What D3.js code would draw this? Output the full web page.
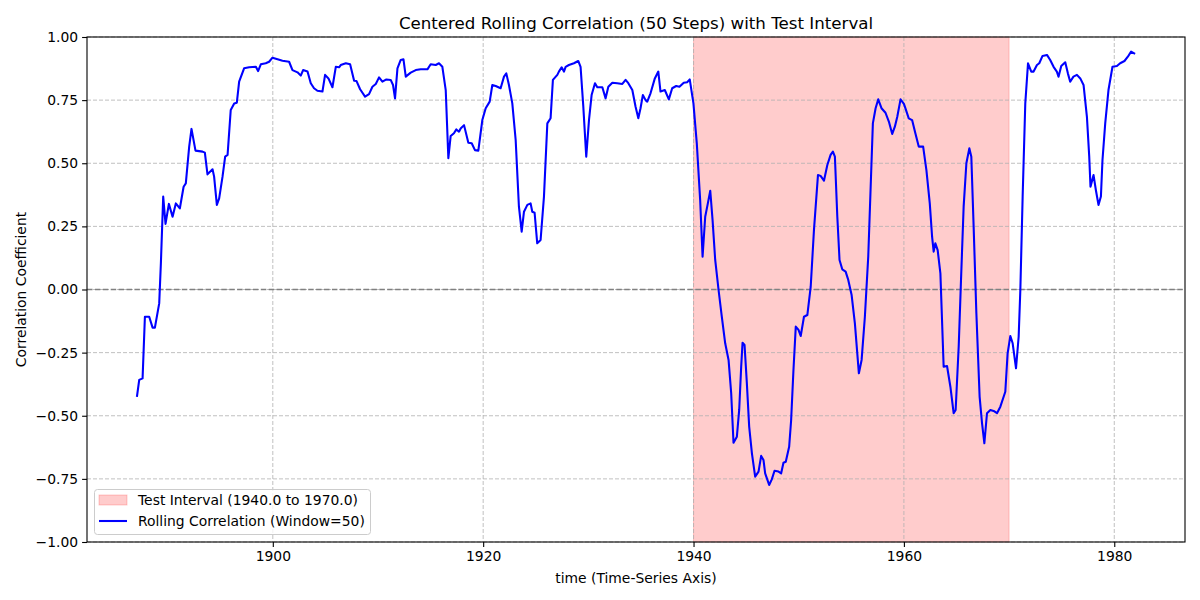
<!DOCTYPE html>
<html><head><meta charset="utf-8">
<script src="https://cdn.jsdelivr.net/npm/d3@7"></script>
<style>body{margin:0;background:#fff;} svg{display:block;font-family:"DejaVu Sans",sans-serif;}</style>
</head><body><svg id="c" width="1200" height="600"></svg>
<script>
const years = [1887.08,1887.3,1887.62,1887.84,1888.25,1888.57,1888.79,1889.2,1889.36,1889.58,1889.8,1890.12,1890.47,1890.78,1891.16,1891.52,1891.73,1892.05,1892.27,1892.65,1893.32,1893.54,1893.79,1894.27,1894.42,1894.68,1894.9,1895.22,1895.47,1895.7,1896.0,1896.33,1896.58,1896.8,1897.27,1897.75,1898.39,1898.6,1898.86,1899.33,1899.65,1899.97,
1900.45,1900.92,1901.55,1901.87,1902.35,1902.66,1902.88,1903.3,1903.61,1903.92,1904.24,1904.72,1904.97,1905.29,1905.67,1905.99,1906.3,1906.46,1906.94,1907.35,1907.73,1907.95,1908.3,1908.77,1909.15,1909.47,1909.79,1910.1,1910.42,1910.8,1911.21,1911.43,1911.62,1911.85,1912.16,1912.42,1912.64,1913.11,1913.59,1914.06,1914.7,1915.01,1915.49,1915.8,1916.12,1916.44,1916.69,1916.91,1917.22,1917.45,1917.7,1917.86,1918.18,1918.59,1918.91,1919.22,1919.54,1919.92,
1920.24,1920.62,1920.87,1921.19,1921.66,1921.98,1922.2,1922.45,1922.77,1923.09,1923.4,1923.66,1923.88,1924.2,1924.51,1924.67,1924.89,1925.14,1925.46,1925.78,1926.1,1926.41,1926.63,1927.05,1927.2,1927.46,1927.68,1927.84,1928.15,1928.63,1929.04,1929.26,1929.52,1929.8,1930.06,1930.31,1930.63,1930.85,1931.33,1931.64,1931.9,1932.28,1932.75,1933.23,1933.54,1933.8,1934.18,1934.49,1934.75,1934.96,1935.18,1935.44,1935.6,1935.91,1936.32,1936.65,1936.86,1937.27,1937.65,1937.97,1938.35,1938.66,1939.07,1939.39,1939.64,
1939.99,1940.31,1940.63,1940.86,1941.11,1941.36,1941.59,1941.81,1942.06,1942.38,1942.69,1943.01,1943.33,1943.58,1943.8,1944.12,1944.34,1944.53,1944.66,1944.85,1945.07,1945.29,1945.55,1945.86,1946.18,1946.43,1946.65,1946.81,1947.19,1947.44,1947.7,1948.08,1948.33,1948.55,1948.77,1949.09,1949.28,1949.5,1949.72,1949.98,1950.19,1950.5,1950.82,1951.14,1951.45,1951.83,1952.08,1952.4,1952.72,1953.03,1953.25,1953.44,1953.67,1953.88,1954.14,1954.46,1954.71,1955.03,1955.34,1955.72,1955.98,1956.29,1956.61,1956.83,1957.05,1957.31,1957.56,1957.87,1958.25,1958.57,1958.89,1959.14,1959.37,1959.68,
1960.0,1960.14,1960.46,1960.78,1961.09,1961.41,1961.83,1962.14,1962.46,1962.68,1962.83,1962.99,1963.21,1963.47,1963.78,1964.1,1964.42,1964.73,1964.92,1965.21,1965.43,1965.68,1965.94,1966.22,1966.41,1966.63,1966.89,1967.2,1967.43,1967.65,1967.9,1968.22,1968.53,1968.85,1969.17,1969.64,1969.86,1970.12,1970.34,1970.66,1970.91,1971.07,1971.29,1971.54,1971.8,1972.11,1972.33,1972.65,1972.87,1973.18,1973.6,1973.91,1974.23,1974.54,1974.7,1974.96,1975.34,1975.59,1975.81,1976.12,1976.45,1976.77,1977.08,1977.4,1977.62,1977.74,1978.03,1978.25,1978.5,1978.73,1978.88,1979.14,1979.45,1979.83,1980.25,1980.56,1980.97,1981.29,1981.6,1981.98];
const corr = [-0.425,-0.358,-0.352,-0.108,-0.108,-0.151,-0.151,-0.055,0.105,0.368,0.26,0.339,0.288,0.341,0.321,0.407,0.42,0.566,0.636,0.55,0.546,0.542,0.456,0.476,0.447,0.335,0.361,0.447,0.526,0.533,0.711,0.737,0.74,0.823,0.876,0.88,0.882,0.865,0.892,0.896,0.902,0.918,
0.912,0.906,0.902,0.869,0.86,0.847,0.869,0.863,0.817,0.797,0.787,0.784,0.85,0.836,0.801,0.882,0.88,0.889,0.896,0.892,0.827,0.826,0.793,0.764,0.774,0.803,0.814,0.84,0.823,0.832,0.83,0.81,0.757,0.876,0.909,0.912,0.843,0.859,0.869,0.872,0.872,0.892,0.889,0.896,0.882,0.79,0.52,0.608,0.619,0.634,0.625,0.638,0.651,0.581,0.579,0.552,0.55,0.671,
0.718,0.744,0.81,0.806,0.797,0.843,0.856,0.81,0.737,0.592,0.328,0.229,0.308,0.335,0.341,0.308,0.304,0.183,0.196,0.368,0.658,0.678,0.83,0.85,0.863,0.88,0.863,0.882,0.889,0.896,0.905,0.882,0.724,0.526,0.671,0.77,0.817,0.801,0.801,0.757,0.803,0.819,0.817,0.814,0.83,0.817,0.79,0.724,0.678,0.718,0.77,0.75,0.744,0.777,0.836,0.863,0.784,0.79,0.753,0.797,0.806,0.803,0.819,0.821,0.832,
0.737,0.579,0.354,0.13,0.288,0.341,0.391,0.275,0.117,-0.002,-0.108,-0.213,-0.279,-0.411,-0.607,-0.583,-0.477,-0.306,-0.211,-0.22,-0.372,-0.543,-0.649,-0.741,-0.721,-0.659,-0.675,-0.728,-0.774,-0.752,-0.718,-0.721,-0.728,-0.686,-0.682,-0.623,-0.517,-0.319,-0.147,-0.16,-0.184,-0.108,-0.101,0.011,0.236,0.453,0.45,0.431,0.493,0.533,0.546,0.526,0.288,0.117,0.08,0.071,0.038,-0.022,-0.134,-0.332,-0.279,-0.108,0.13,0.394,0.658,0.718,0.753,0.718,0.7,0.665,0.616,0.645,0.684,0.753,
0.735,0.718,0.678,0.671,0.619,0.566,0.566,0.473,0.341,0.209,0.15,0.183,0.156,0.064,-0.306,-0.303,-0.385,-0.49,-0.477,-0.226,0.038,0.328,0.5,0.559,0.526,0.249,-0.094,-0.425,-0.53,-0.609,-0.49,-0.477,-0.481,-0.49,-0.464,-0.405,-0.253,-0.184,-0.213,-0.312,-0.187,-0.002,0.368,0.737,0.896,0.863,0.863,0.889,0.896,0.925,0.929,0.909,0.882,0.863,0.843,0.885,0.9,0.856,0.823,0.843,0.85,0.836,0.81,0.684,0.526,0.407,0.453,0.394,0.335,0.368,0.513,0.658,0.79,0.882,0.885,0.896,0.905,0.922,0.942,0.933];
const yTicks = [-1.0,-0.75,-0.5,-0.25,0,0.25,0.5,0.75,1.0];
const xTicks = [1900,1920,1940,1960,1980];
const testStart = 1940.0, testEnd = 1970.0;
const titleText = "Centered Rolling Correlation (50 Steps) with Test Interval";
const xLabel = "time (Time-Series Axis)";
const yLabel = "Correlation Coefficient";

const data = years.map((y,i)=>({t:y, v:corr[i]}));
const L=87, R=1185, T=37, B=542;
const FS = "13.89px";
const svg = d3.select("#c");
const dmin = d3.min(years), dmax = d3.max(years), pad=(dmax-dmin)*0.05;
const x = d3.scaleLinear().domain([dmin-pad, dmax+pad]).range([L,R]);
const y = d3.scaleLinear().domain([-1,1]).range([B,T]);

svg.append("defs").append("clipPath").attr("id","clp").append("rect")
  .attr("x",L).attr("y",T).attr("width",R-L).attr("height",B-T);

// span
svg.append("rect").attr("x",x(testStart)).attr("y",T).attr("width",x(testEnd)-x(testStart)).attr("height",B-T)
  .attr("fill","rgb(255,0,0)").attr("fill-opacity",0.2).attr("stroke","rgb(255,0,0)").attr("stroke-opacity",0.2).attr("stroke-width",1);

// grid
const g = svg.append("g");
xTicks.forEach(t=>g.append("line").attr("x1",x(t)).attr("x2",x(t)).attr("y1",T).attr("y2",B)
  .attr("stroke","#b0b0b0").attr("stroke-width",0.8).attr("stroke-dasharray","4,2"));
yTicks.forEach(t=>g.append("line").attr("x1",L).attr("x2",R).attr("y1",y(t)).attr("y2",y(t))
  .attr("stroke","#b0b0b0").attr("stroke-width",0.8).attr("stroke-dasharray","4,2"));

// zero line
svg.append("line").attr("x1",L).attr("x2",R).attr("y1",y(0)).attr("y2",y(0))
  .attr("stroke","gray").attr("stroke-width",1.5).attr("stroke-dasharray","5.5,2.4");

// data line
svg.append("path").datum(data).attr("clip-path","url(#clp)")
  .attr("d", d3.line().x(d=>x(d.t)).y(d=>y(d.v)))
  .attr("fill","none").attr("stroke","blue").attr("stroke-width",2.08).attr("stroke-linejoin","round");

// axes
const fmtY = v => (v<0?"\u2212":"") + Math.abs(v).toFixed(2);
const xa = svg.append("g").attr("transform",`translate(0,${B})`)
  .call(d3.axisBottom(x).tickValues(xTicks).tickFormat(d3.format("d")).tickSize(4.9).tickPadding(4));
const ya = svg.append("g").attr("transform",`translate(${L},0)`)
  .call(d3.axisLeft(y).tickValues(yTicks).tickFormat(fmtY).tickSize(4.9).tickPadding(4));
[xa,ya].forEach(a=>{a.select(".domain").remove(); a.selectAll("text").attr("font-family","DejaVu Sans").attr("font-size",FS).attr("fill","#000");
  a.selectAll("line").attr("stroke","#000").attr("stroke-width",1.1);});
svg.append("rect").attr("x",L).attr("y",T).attr("width",R-L).attr("height",B-T)
  .attr("fill","none").attr("stroke","#000").attr("stroke-width",1.1);

// titles
svg.append("text").attr("x",(L+R)/2).attr("y",29).attr("text-anchor","middle").attr("font-size","16.67px").text(titleText);
svg.append("text").attr("x",(L+R)/2).attr("y",583).attr("text-anchor","middle").attr("font-size",FS).text(xLabel);
svg.append("text").attr("transform",`translate(26,${(T+B)/2}) rotate(-90)`).attr("text-anchor","middle").attr("font-size",FS).text(yLabel);

// legend
const lg = svg.append("g");
lg.append("rect").attr("x",94.5).attr("y",489.5).attr("width",276).attr("height",45).attr("rx",3)
  .attr("fill","#fff").attr("fill-opacity",0.8).attr("stroke","#cccccc").attr("stroke-width",1);
lg.append("rect").attr("x",99).attr("y",495).attr("width",28).attr("height",10)
  .attr("fill","rgb(255,0,0)").attr("fill-opacity",0.2).attr("stroke","rgb(255,0,0)").attr("stroke-opacity",0.2);
lg.append("text").attr("x",138).attr("y",505).attr("font-size",FS).text(`Test Interval (${testStart.toFixed(1)} to ${testEnd.toFixed(1)})`);
lg.append("line").attr("x1",99).attr("x2",127).attr("y1",521).attr("y2",521).attr("stroke","blue").attr("stroke-width",2.08);
lg.append("text").attr("x",138).attr("y",526).attr("font-size",FS).text("Rolling Correlation (Window=50)");
</script></body></html>
